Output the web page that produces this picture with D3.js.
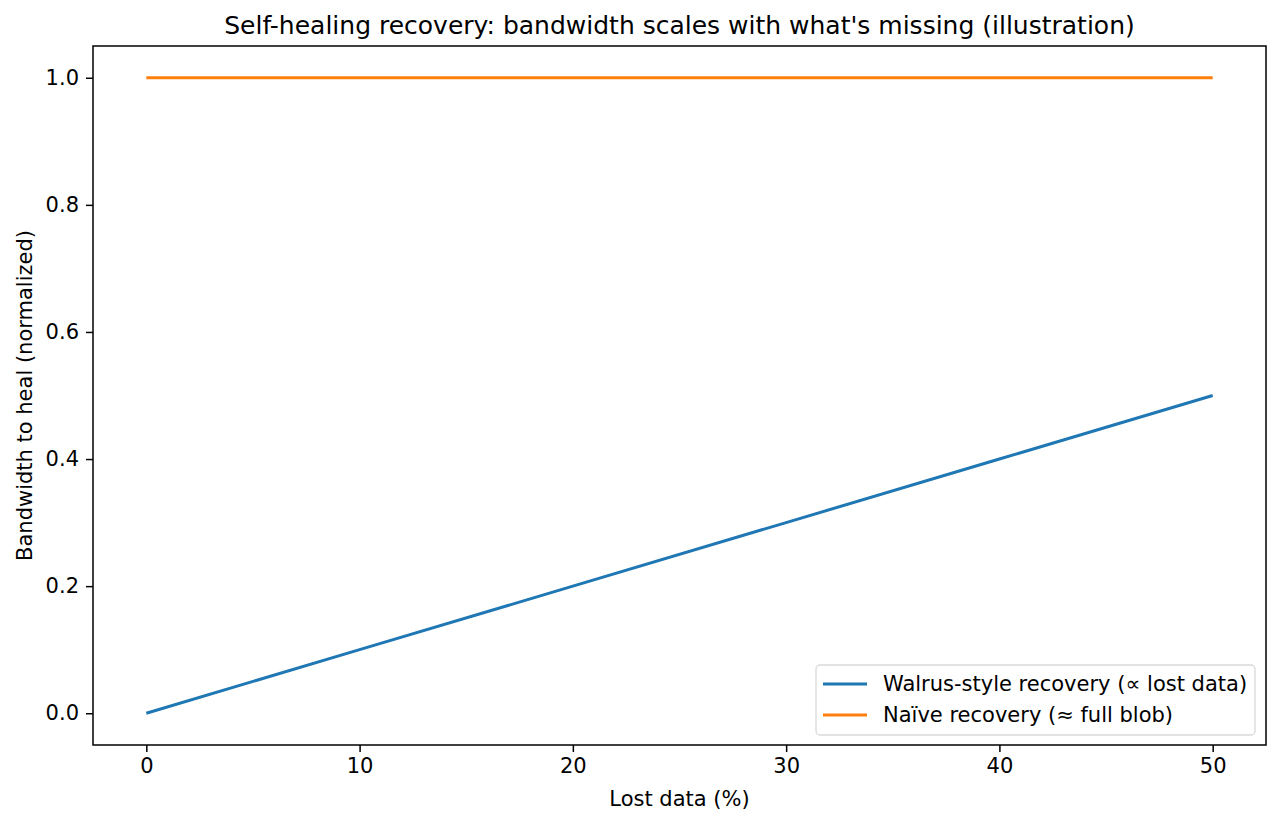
<!DOCTYPE html>
<html>
<head>
<meta charset="utf-8">
<script src="https://cdn.jsdelivr.net/npm/d3@7"></script>
<style>
  html, body { margin: 0; padding: 0; background: #fff; }
  svg { display: block; font-family: "DejaVu Sans", sans-serif; }
</style>
</head>
<body>
<svg width="1280" height="826"></svg>
<script>
const lostPct = [0, 10, 20, 30, 40, 50];
const walrus = [0, 0.1, 0.2, 0.3, 0.4, 0.5];
const naive = [1, 1, 1, 1, 1, 1];
const xTicks = [0, 10, 20, 30, 40, 50];
const yTicks = [0, 0.2, 0.4, 0.6, 0.8, 1.0];

const series = [
  { name: "Walrus-style recovery (\u221d lost data)", values: walrus, color: "#1f77b4" },
  { name: "Na\u00efve recovery (\u2248 full blob)", values: naive, color: "#ff7f0e" },
];

const svg = d3.select("svg");
const m = { left: 93, right: 1266, top: 46, bottom: 745 };

const x = d3.scaleLinear().domain([-2.5, 52.5]).range([m.left, m.right]);
const y = d3.scaleLinear().domain([-0.05, 1.05]).range([m.bottom, m.top]);

const FS = 21;

// lines
const line = d3
  .line()
  .x((d, i) => x(lostPct[i]))
  .y((d) => y(d));

svg
  .append("g")
  .selectAll("path")
  .data(series)
  .join("path")
  .attr("d", (d) => line(d.values))
  .attr("fill", "none")
  .attr("stroke", (d) => d.color)
  .attr("stroke-width", 3);

// axes
const xAxis = svg
  .append("g")
  .attr("transform", `translate(0,${m.bottom})`)
  .call(d3.axisBottom(x).tickValues(xTicks).tickSize(7).tickSizeOuter(0).tickPadding(6));
const yAxis = svg
  .append("g")
  .attr("transform", `translate(${m.left},0)`)
  .call(
    d3.axisLeft(y).tickValues(yTicks).tickFormat(d3.format(".1f")).tickSize(7).tickSizeOuter(0).tickPadding(7)
  );

[xAxis, yAxis].forEach((a) => {
  a.select(".domain").remove();
  a.selectAll(".tick line").attr("stroke", "#000").attr("stroke-width", 1.5);
  a.selectAll(".tick text")
    .attr("font-size", FS)
    .attr("font-family", "DejaVu Sans")
    .attr("fill", "#000");
});

// frame
svg
  .append("rect")
  .attr("x", m.left)
  .attr("y", m.top)
  .attr("width", m.right - m.left)
  .attr("height", m.bottom - m.top)
  .attr("fill", "none")
  .attr("stroke", "#000")
  .attr("stroke-width", 1.5);

// title and labels
svg
  .append("text")
  .attr("x", (m.left + m.right) / 2)
  .attr("y", 34)
  .attr("text-anchor", "middle")
  .attr("font-size", 25)
  .text("Self-healing recovery: bandwidth scales with what's missing (illustration)");

svg
  .append("text")
  .attr("x", (m.left + m.right) / 2)
  .attr("y", 806)
  .attr("text-anchor", "middle")
  .attr("font-size", FS)
  .text("Lost data (%)");

svg
  .append("text")
  .attr("transform", `translate(32,${(m.top + m.bottom) / 2}) rotate(-90)`)
  .attr("text-anchor", "middle")
  .attr("font-size", FS)
  .text("Bandwidth to heal (normalized)");

// legend
const lg = svg.append("g").attr("transform", "translate(816,665)");
lg.append("rect")
  .attr("width", 439)
  .attr("height", 70)
  .attr("rx", 4)
  .attr("fill", "#fff")
  .attr("fill-opacity", 0.8)
  .attr("stroke", "#d9d9d9")
  .attr("stroke-width", 1.3);

const item = lg
  .selectAll("g.item")
  .data(series)
  .join("g")
  .attr("class", "item")
  .attr("transform", (d, i) => `translate(0,${19 + i * 31})`);
item
  .append("line")
  .attr("x1", 7)
  .attr("x2", 51)
  .attr("stroke", (d) => d.color)
  .attr("stroke-width", 3);
item
  .append("text")
  .attr("x", 67)
  .attr("dy", "0.35em")
  .attr("font-size", FS)
  .text((d) => d.name);
</script>
</body>
</html>
